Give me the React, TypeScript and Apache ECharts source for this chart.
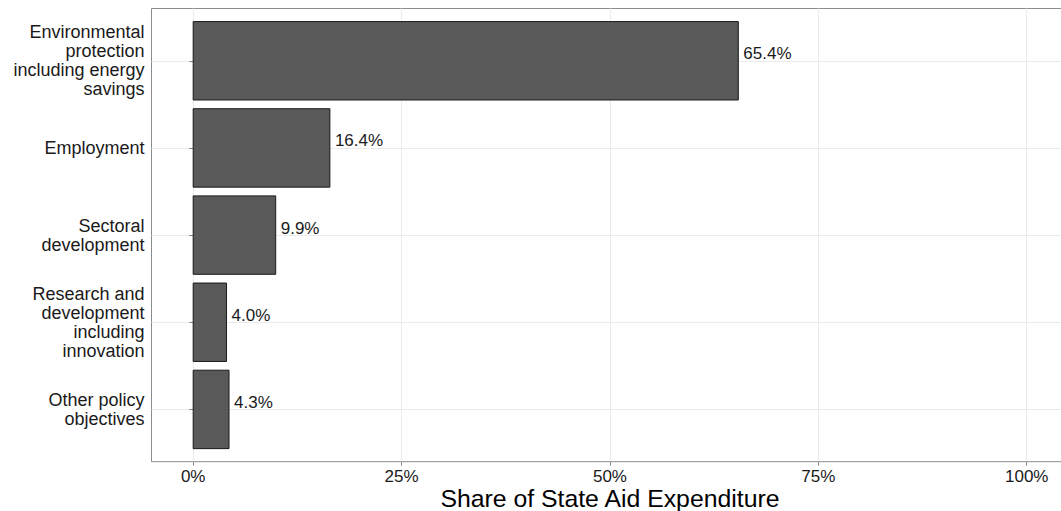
import React, { useEffect, useRef } from "react";
import * as echarts from "echarts";

const categories: string[] = [
  "Environmental\nprotection\nincluding energy\nsavings",
  "Employment",
  "Sectoral\ndevelopment",
  "Research and\ndevelopment\nincluding\ninnovation",
  "Other policy\nobjectives",
];
const shares: number[] = [65.4, 16.4, 9.9, 4.0, 4.3];
const xTicks: number[] = [0, 25, 50, 75, 100];
const yPositions: number[] = [1, 2, 3, 4, 5];
const xTitle = "Share of State Aid Expenditure";

const FONT = "Liberation Sans, Arial, Helvetica, sans-serif";

export default function App() {
  const ref = useRef<HTMLDivElement>(null);
  useEffect(() => {
    if (!ref.current) return;
    const chart = echarts.init(ref.current, undefined, { renderer: "svg" });
    const data = shares.map((v, i) => [v, yPositions[i]]);
    chart.setOption({
      animation: false,
      backgroundColor: "#ffffff",
      grid: {
        left: 151.5,
        top: 8.5,
        bottom: 49.3,
        right: 0.6,
        outerBoundsMode: "none",
        containLabel: false,
        show: true,
        borderColor: "#8c8c8c",
        borderWidth: 1,
        backgroundColor: "transparent",
      },
      xAxis: {
        type: "value",
        min: -5,
        max: 105,
        axisLine: { show: false },
        axisTick: {
          show: true,
          customValues: xTicks,
          length: 4,
          lineStyle: { color: "#888888", width: 1 },
        },
        axisLabel: {
          customValues: xTicks,
          formatter: (v: number) => `${v}%`,
          color: "#1a1a1a",
          fontFamily: FONT,
          fontSize: 17,
          lineHeight: 17,
          margin: 6,
        },
        splitLine: { show: true, lineStyle: { color: "#ebebeb", width: 1 } },
        name: xTitle,
        nameLocation: "middle",
        nameGap: 36.5,
        nameMoveOverlap: false,
        nameTextStyle: {
          color: "#000",
          fontFamily: FONT,
          fontSize: 24.8,
          verticalAlign: "middle",
          lineHeight: 22,
        },
      },
      yAxis: {
        type: "value",
        inverse: true,
        min: 0.4,
        max: 5.6,
        axisLine: { show: false },
        axisTick: {
          show: true,
          customValues: yPositions,
          length: 4,
          lineStyle: { color: "#888888", width: 1 },
        },
        axisLabel: {
          customValues: yPositions,
          formatter: (v: number) => categories[Math.round(v) - 1] ?? "",
          color: "#1a1a1a",
          fontFamily: FONT,
          fontSize: 18,
          lineHeight: 19,
          margin: 7,
          align: "right",
        },
        splitLine: { show: true, lineStyle: { color: "#ebebeb", width: 1 } },
      },
      series: [
        {
          type: "custom",
          data,
          encode: { x: 0, y: 1 },
          clip: false,
          renderItem: (params: any, api: any) => {
            const v = api.value(0);
            const y = api.value(1);
            const p0 = api.coord([0, y - 0.45]);
            const p1 = api.coord([v, y + 0.45]);
            const pc = api.coord([v, y]);
            const top = Math.min(p0[1], p1[1]);
            const h = Math.abs(p1[1] - p0[1]);
            return {
              type: "group",
              children: [
                {
                  type: "rect",
                  shape: { x: p0[0], y: top, width: p1[0] - p0[0], height: h },
                  style: { fill: "#595959", stroke: "#1a1a1a", lineWidth: 1 },
                },
                {
                  type: "text",
                  x: p1[0] + 5,
                  y: pc[1] - 7,
                  style: {
                    text: `${v.toFixed(1)}%`,
                    fill: "#1a1a1a",
                    font: `17px ${FONT}`,
                    align: "left",
                    verticalAlign: "middle",
                  },
                },
              ],
            };
          },
        },
      ],
    });
    return () => chart.dispose();
  }, []);
  return (
    <div
      style={{ position: "absolute", left: 0, top: 0, width: 1061, height: 511, overflow: "hidden" }}
    >
      <div ref={ref} style={{ width: 1069, height: 511 }} />
    </div>
  );
}
